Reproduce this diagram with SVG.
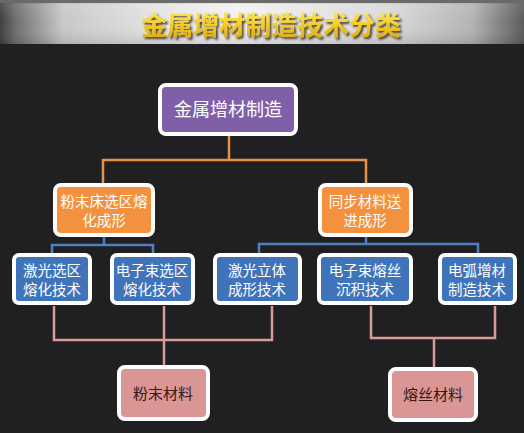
<svg xmlns="http://www.w3.org/2000/svg" width="524" height="433" viewBox="0 0 524 433">
<defs>
<linearGradient id="hdr" x1="0" y1="0" x2="1" y2="0">
<stop offset="0" stop-color="#3e3e3e"/>
<stop offset="0.03" stop-color="#6e6e6e"/>
<stop offset="0.12" stop-color="#c8c8c8"/>
<stop offset="0.3" stop-color="#e4e4e4"/>
<stop offset="0.45" stop-color="#f2f2f2"/>
<stop offset="0.75" stop-color="#d8d8d8"/>
<stop offset="0.9" stop-color="#b4b4b4"/>
<stop offset="1" stop-color="#5a5a5a"/>
</linearGradient>
<linearGradient id="hdrv" x1="0" y1="0" x2="0" y2="1">
<stop offset="0" stop-color="#000" stop-opacity="0.25"/>
<stop offset="0.12" stop-color="#fff" stop-opacity="0.1"/>
<stop offset="0.5" stop-color="#fff" stop-opacity="0"/>
<stop offset="1" stop-color="#000" stop-opacity="0.12"/>
</linearGradient>
<linearGradient id="gold" x1="0" y1="0" x2="0" y2="1">
<stop offset="0" stop-color="#fff27a"/>
<stop offset="0.5" stop-color="#f5cf2a"/>
<stop offset="1" stop-color="#d9a30f"/>
</linearGradient>
<filter id="sh" x="-10%" y="-30%" width="120%" height="160%">
<feDropShadow dx="2" dy="2" stdDeviation="0.8" flood-color="#2a1e00" flood-opacity="0.8"/>
</filter>
</defs>
<style>
.box{stroke:#fff;stroke-width:4}
.t{font-family:"Noto Sans CJK SC","Liberation Sans",sans-serif;text-anchor:middle;fill:#fff}
.lo{stroke:#e8914a;stroke-width:2.5;fill:none}
.lb{stroke:#4f7fc0;stroke-width:2.5;fill:none}
.lp{stroke:#d99a98;stroke-width:2.5;fill:none}
</style>
<rect width="524" height="433" fill="#202022"/>
<g id="header">
<rect x="0" y="0" width="524" height="44" fill="url(#hdr)"/>
<rect x="0" y="0" width="524" height="44" fill="url(#hdrv)"/>
<rect x="0" y="0" width="524" height="3" fill="#6a6a6a"/>
<text x="271" y="35" font-family="Noto Sans CJK SC,sans-serif" font-size="26" font-weight="bold" text-anchor="middle" fill="url(#gold)" filter="url(#sh)">金属增材制造技术分类</text>
</g>
<g id="connectors">
<polyline class="lo" points="229,136 229,160"/>
<polyline class="lo" points="103,184 103,160 366,160 366,184"/>
<polyline class="lb" points="104,237 104,245"/>
<polyline class="lb" points="52,253 52,245 153,245 153,253"/>
<polyline class="lb" points="366,237 366,244"/>
<polyline class="lb" points="259,253 259,244 478,244 478,253"/>
<polyline class="lp" points="54,306 54,340 272,340 272,306"/>
<polyline class="lp" points="164,306 164,366"/>
<polyline class="lp" points="371,306 371,338 495,338 495,306"/>
<polyline class="lp" points="434,338 434,367"/>
</g>
<g id="n-root">
<rect class="box" x="160" y="85" width="136" height="49" rx="6" fill="#7e5fa8"/>
<text class="t" x="228" y="116" font-size="18">金属增材制造</text>
</g>
<g id="n-pbf">
<rect class="box" x="55" y="185" width="98" height="50" rx="6" fill="#f3913f"/>
<text class="t" x="104" y="207" font-size="14.5">粉末床选区熔</text>
<text class="t" x="104" y="226" font-size="14.5">化成形</text>
</g>
<g id="n-ded">
<rect class="box" x="320" y="185" width="91" height="50" rx="6" fill="#f3913f"/>
<text class="t" x="365" y="207" font-size="14.5">同步材料送</text>
<text class="t" x="365" y="226" font-size="14.5">进成形</text>
</g>
<g id="n-slm">
<rect class="box" x="14" y="255" width="76" height="48" rx="5" fill="#3f73ba"/>
<text class="t" x="52" y="276" font-size="14.5">激光选区</text>
<text class="t" x="52" y="295" font-size="14.5">熔化技术</text>
</g>
<g id="n-ebm">
<rect class="box" x="112" y="255" width="81" height="48" rx="5" fill="#3f73ba"/>
<text class="t" x="152" y="276" font-size="14.5">电子束选区</text>
<text class="t" x="152" y="295" font-size="14.5">熔化技术</text>
</g>
<g id="n-lsf">
<rect class="box" x="215" y="255" width="85" height="48" rx="5" fill="#3f73ba"/>
<text class="t" x="257" y="276" font-size="14.5">激光立体</text>
<text class="t" x="257" y="295" font-size="14.5">成形技术</text>
</g>
<g id="n-ebf">
<rect class="box" x="319" y="255" width="92" height="48" rx="5" fill="#3f73ba"/>
<text class="t" x="365" y="276" font-size="14.5">电子束熔丝</text>
<text class="t" x="365" y="295" font-size="14.5">沉积技术</text>
</g>
<g id="n-waam">
<rect class="box" x="440" y="255" width="75" height="48" rx="5" fill="#3f73ba"/>
<text class="t" x="477" y="276" font-size="14.5">电弧增材</text>
<text class="t" x="477" y="295" font-size="14.5">制造技术</text>
</g>
<g id="n-powder">
<rect class="box" x="119" y="367" width="89" height="52" rx="6" fill="#d99694"/>
<text class="t" x="163" y="399" font-size="15" style="fill:#3a1616">粉末材料</text>
</g>
<g id="n-wire">
<rect class="box" x="390" y="369" width="86" height="51" rx="6" fill="#d99694"/>
<text class="t" x="433" y="400" font-size="15" style="fill:#3a1616">熔丝材料</text>
</g>
</svg>
